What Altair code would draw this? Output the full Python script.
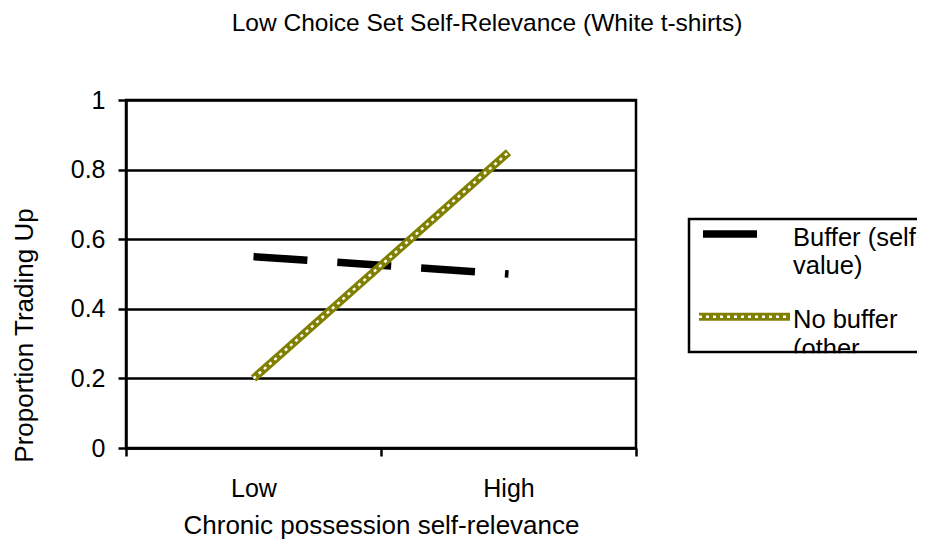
import altair as alt
import pandas as pd

# ---- data ----
categories = ["Low", "High"]
buffer_values = [0.55, 0.50]
nobuffer_values = [0.20, 0.85]
series_names = ["Buffer (self value)", "No buffer (other value)"]
legend_lines = ["Buffer (self\nvalue)", "No buffer\n(other\nvalue)"]
y_ticks = [0, 0.2, 0.4, 0.6, 0.8, 1.0]
title_text = "Low Choice Set Self-Relevance (White t-shirts)"
x_title = "Chronic possession self-relevance"
y_title = "Proportion Trading Up"

rows = []
for cat, b, n in zip(categories, buffer_values, nobuffer_values):
    rows.append({"cat": cat, "value": b, "series": series_names[0]})
    rows.append({"cat": cat, "value": n, "series": series_names[1]})
df = pd.DataFrame(rows)

FONT = "Liberation Sans"
OLIVE = "#808000"

x_enc = alt.X(
    "cat:N",
    sort=categories,
    scale=alt.Scale(type="band", domain=categories, paddingInner=0, paddingOuter=0),
    axis=alt.Axis(
        title=x_title, labelAngle=0, tickBand="extent", tickSize=8, tickWidth=2.5,
        tickColor="black", domainColor="black", domainWidth=2.5, grid=False,
        labelFont=FONT, labelFontSize=25, labelColor="black", labelBaseline="alphabetic",
        labelPadding=40, titleFont=FONT, titleFontSize=26, titleFontWeight="normal",
        titleColor="black", titleBaseline="alphabetic", titleY=85,
    ),
)
y_enc = alt.Y(
    "value:Q",
    scale=alt.Scale(domain=[0, 1]),
    axis=alt.Axis(
        values=y_ticks, format="~g", tickSize=8, tickWidth=2.5, tickColor="black",
        domainColor="black", domainWidth=2.5, grid=True, gridColor="black", gridWidth=2.3,
        labelFont=FONT, labelFontSize=25, labelColor="black", labelPadding=13,
        labelFlush=False, labelBound=False,
        title=y_title, titleFont=FONT, titleFontSize=26, titleFontWeight="normal",
        titleColor="black", titleAngle=270, titleX=-94, titleY=235,
        titleBaseline="alphabetic", titleAlign="center",
    ),
)

base = alt.Chart(df).encode(x=x_enc, y=y_enc)
buf = base.transform_filter(alt.datum.series == series_names[0])
nob = base.transform_filter(alt.datum.series == series_names[1])

buffer_line = buf.mark_line(color="black", strokeWidth=7.5, strokeDash=[54, 30], strokeCap="butt")
nb_line = nob.mark_line(color=OLIVE, strokeWidth=8, strokeCap="butt")
nb_dots = nob.mark_line(color="white", strokeWidth=2.5, strokeDash=[3, 4], strokeCap="butt")

# ---- legend (drawn by hand, partly clipped as in the reference) ----
one = pd.DataFrame({"k": [0]})
leg_df = pd.DataFrame({"label": legend_lines, "series": series_names})

leg_fill = alt.Chart(one).mark_rect(fill="white", stroke=None).encode(
    x=alt.value(563), x2=alt.value(900), y=alt.value(119), y2=alt.value(252))
leg_sym1 = alt.Chart(one).mark_rule(color="black", strokeWidth=7.7, strokeCap="butt").encode(
    x=alt.value(577), x2=alt.value(631), y=alt.value(134))
leg_sym2 = alt.Chart(one).mark_rule(color=OLIVE, strokeWidth=8, strokeCap="butt").encode(
    x=alt.value(573), x2=alt.value(664), y=alt.value(216.7))
leg_sym2b = alt.Chart(one).mark_rule(color="white", strokeWidth=2.5, strokeDash=[3, 4], strokeCap="butt").encode(
    x=alt.value(573), x2=alt.value(664), y=alt.value(216.7))
leg_txt1 = alt.Chart(leg_df).transform_filter(alt.datum.series == series_names[0]).mark_text(
    font=FONT, fontSize=25.5, color="black", align="left", baseline="alphabetic",
    lineBreak="\n", lineHeight=28.5).encode(x=alt.value(667), y=alt.value(145.7), text="label:N")
leg_txt2 = alt.Chart(leg_df).transform_filter(alt.datum.series == series_names[1]).mark_text(
    font=FONT, fontSize=25.5, color="black", align="left", baseline="alphabetic",
    lineBreak="\n", lineHeight=28.5).encode(x=alt.value(667), y=alt.value(228.3), text="label:N")
leg_cover = alt.Chart(one).mark_rect(fill="white", stroke=None).encode(
    x=alt.value(560), x2=alt.value(900), y=alt.value(253.3), y2=alt.value(340))
leg_border = alt.Chart(one).mark_rect(fill=None, filled=False, stroke="black", strokeWidth=2.5).encode(
    x=alt.value(563), x2=alt.value(900), y=alt.value(119), y2=alt.value(252))

chart = alt.layer(
    buffer_line, nb_line, nb_dots,
    leg_fill, leg_sym1, leg_sym2, leg_sym2b, leg_txt1, leg_txt2, leg_cover, leg_border,
).properties(
    width=510,
    height=348,
    autosize=alt.AutoSizeParams(type="none"),
    padding={"left": 118, "top": 92, "right": 281, "bottom": 98},
    title=alt.TitleParams(
        text=title_text, font=FONT, fontSize=24.5, fontWeight="normal", color="black",
        anchor="middle", frame="group", dx=106, offset=33, baseline="alphabetic",
    ),
).configure_view(stroke="black", strokeWidth=2.5)

chart.save("out.html", embed_options={"renderer": "svg", "actions": False})
